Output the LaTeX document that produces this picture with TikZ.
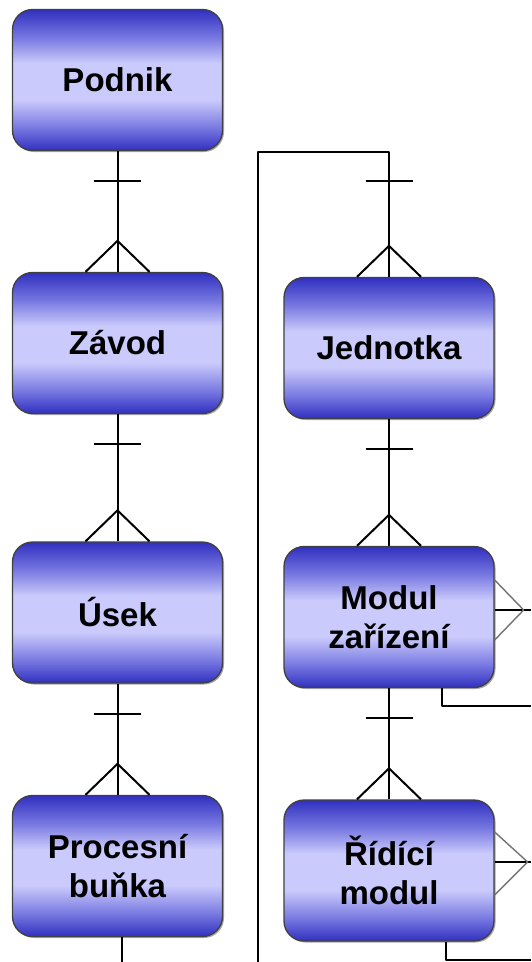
\documentclass[tikz,border=0pt]{standalone}
\usepackage{fontspec}
\newfontfamily\lblfont{Liberation Sans}
\usetikzlibrary{shadows}

\definecolor{bdark}{RGB}{48,48,192}
\definecolor{bmid}{RGB}{120,120,225}
\definecolor{blight}{RGB}{202,202,252}
% dark at top and bottom, a light band through the middle
\pgfdeclareverticalshading{boxgrad}{100bp}{%
  color(0bp)=(bdark); color(25bp)=(bdark); color(33bp)=(bmid);
  color(43bp)=(blight); color(56bp)=(blight); color(65bp)=(bmid);
  color(75bp)=(bdark); color(100bp)=(bdark)}

\tikzset{
  entity/.style={draw=black!75, line width=1.3pt, rounded corners=20pt,
    shading=boxgrad, minimum width=210pt, minimum height=141pt,
    inner sep=0pt, align=center,
    font=\lblfont\bfseries\fontsize{33}{39}\selectfont,
    drop shadow={shadow xshift=1.5pt, shadow yshift=-1.5pt,
      opacity=0.35, fill=black}},
  rel/.style={line width=2pt, black, line join=round},
  side/.style={line width=1.4pt, black!55, line join=round},
}

% one-to-many link: bar under the parent, crow's foot on the child
\newcommand\linkdown[2]{%
  \draw[rel] (#1.south) -- (#2.north);
  \draw[rel] ([xshift=-23.5pt,yshift=-30pt]#1.south) -- ([xshift=23.5pt,yshift=-30pt]#1.south);
  \draw[rel] ([xshift=-32pt]#2.north) -- ([yshift=31pt]#2.north) -- ([xshift=32pt]#2.north);
}

\begin{document}
\begin{tikzpicture}[x=1pt,y=-1pt]
\fill[white] (0,0) rectangle (531,962);
\useasboundingbox (0,0) rectangle (531,962);

% left column
\node[entity] (podnik) at (117.5,80) {Podnik};
\node[entity] (zavod)  at (117.5,343) {Závod};
\node[entity] (usek)   at (117.5,612.5) {Úsek};
\node[entity] (bunka)  at (117.5,866) {Procesní\\buňka};

% right column
\node[entity] (jedn)   at (389,348) {Jednotka};
\node[entity] (modul)  at (389,617) {Modul\\zařízení};
\node[entity] (ridici) at (389,870.5) {Řídící\\modul};

\linkdown{podnik}{zavod}
\linkdown{zavod}{usek}
\linkdown{usek}{bunka}
\linkdown{jedn}{modul}
\linkdown{modul}{ridici}

% continuation below the process cell
\coordinate (bunkaend) at (122,962);
\draw[rel] ([xshift=4.5pt]bunka.south) -- (bunkaend);

% frame around the right column, feeding the unit from above
\coordinate (frametop) at (258,152);
\coordinate (framebot) at (258,962);
\draw[rel] (jedn.north) |- (frametop) -- (framebot);
\draw[rel] ([xshift=-23.5pt,yshift=96pt]jedn.north) -- ([xshift=23.5pt,yshift=96pt]jedn.north);
\draw[rel] ([xshift=-32pt]jedn.north) -- ([yshift=31pt]jedn.north) -- ([xshift=32pt]jedn.north);

% side links of the equipment module
\coordinate (modr) at (531,610);
\coordinate (modb) at (531,706);
\draw[rel] ([yshift=7pt]modul.east) -- (modr);
\draw[side] ([yshift=37pt]modul.east) -- ([xshift=29pt,yshift=7pt]modul.east) -- ([yshift=-23pt]modul.east);
\draw[rel] ([xshift=53pt]modul.south) |- (modb);

% side links of the control module
\coordinate (ridr) at (531,862);
\coordinate (ridb) at (531,960);
\draw[rel] ([yshift=8.5pt]ridici.east) -- (ridr);
\draw[side] ([yshift=38.5pt]ridici.east) -- ([xshift=33pt,yshift=8.5pt]ridici.east) -- ([yshift=-24.5pt]ridici.east);
\draw[rel] ([xshift=57pt]ridici.south) |- (ridb);
\end{tikzpicture}
\end{document}
